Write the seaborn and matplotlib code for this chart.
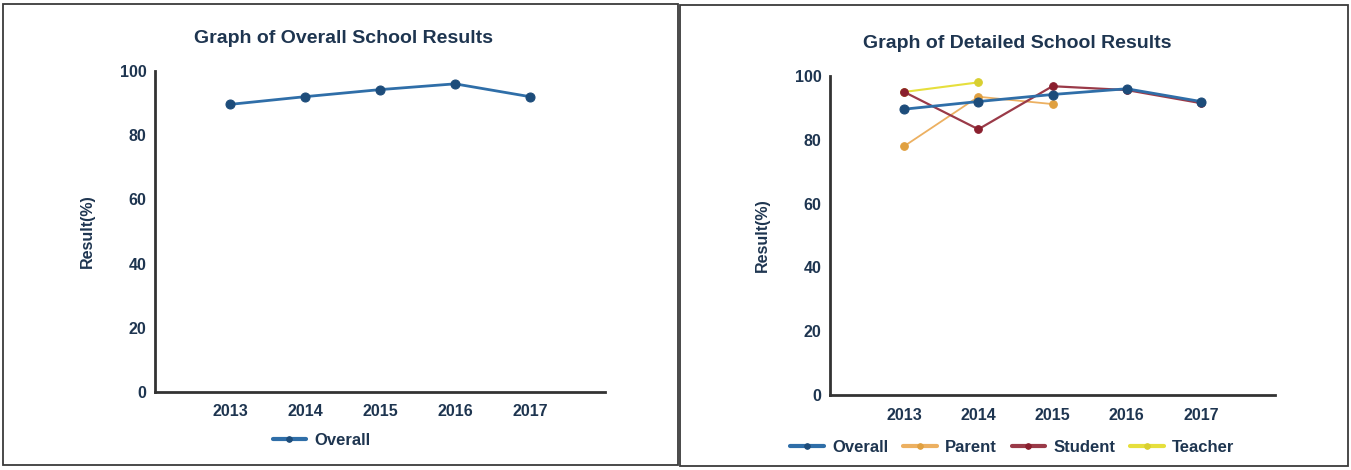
import numpy as np
import pandas as pd
import seaborn as sns
import matplotlib
matplotlib.use("Agg")
import matplotlib.pyplot as plt
from matplotlib.patches import Rectangle

# ---- data -------------------------------------------------------------
years = [2013, 2014, 2015, 2016, 2017]
overall = [89.6, 92.0, 94.2, 96.0, 92.0]
parent = [78.0, 93.5, 91.2, np.nan, np.nan]
student = [95.0, 83.3, 96.8, 95.6, 91.5]
teacher = [95.0, 98.0, np.nan, np.nan, np.nan]
y_ticks = [0, 20, 40, 60, 80, 100]

left_title = "Graph of Overall School Results"
right_title = "Graph of Detailed School Results"
y_label = "Result(%)"

# ---- style ------------------------------------------------------------
sns.set_theme(style="white")
plt.rcParams["font.family"] = ["Liberation Sans", "DejaVu Sans"]

navy = "#1e3550"
spine_col = "#333333"
series_style = {
    "Overall": dict(color="#2f6ea8", mfc="#1d4c7a", mec="#1d4c7a", lw=2.0, ms=6.5, z=5),
    "Parent": dict(color="#ecb061", mfc="#e0a040", mec="#e0a040", lw=1.3, ms=5.5, z=3),
    "Student": dict(color="#9a3a48", mfc="#8a1f2e", mec="#8a1f2e", lw=1.6, ms=5.5, z=4),
    "Teacher": dict(color="#e6df3c", mfc="#d8cf30", mec="#d8cf30", lw=1.5, ms=5.5, z=3),
}

W, H = 1351, 470
fig = plt.figure(figsize=(W / 100, H / 100), dpi=100)

# panel frames
fig.add_artist(Rectangle((3 / W, 1 - 465 / H), 675 / W, 461 / H,
                         transform=fig.transFigure, fill=False,
                         edgecolor="#3a3a3a", lw=1.3))
fig.add_artist(Rectangle((680 / W, 1 - 466 / H), 668 / W, 461 / H,
                         transform=fig.transFigure, fill=False,
                         edgecolor="#3a3a3a", lw=1.3))

ax_l = fig.add_axes([155 / W, 1 - 392 / H, 450 / W, 321 / H])
ax_r = fig.add_axes([830 / W, 1 - 395 / H, 445 / W, 319 / H])


def draw_series(ax, name, values):
    st = series_style[name]
    df = pd.DataFrame({"Year": years, "Result": values})
    sns.lineplot(data=df, x="Year", y="Result", ax=ax, color=st["color"],
                 lw=st["lw"], marker="o", markersize=st["ms"],
                 markerfacecolor=st["mfc"], markeredgecolor=st["mec"],
                 label=name, zorder=st["z"])


def style_axes(ax, title):
    ax.set_xlim(2012, 2018)
    ax.set_ylim(0, 100)
    ax.set_xticks(years)
    ax.set_xticklabels([str(y) for y in years])
    ax.set_yticks(y_ticks)
    sns.despine(ax=ax)
    for s in ("left", "bottom"):
        ax.spines[s].set_color(spine_col)
        ax.spines[s].set_linewidth(2.0)
    ax.tick_params(axis="both", which="both", direction="out", length=4,
                   width=1.2, color=spine_col, labelcolor=navy,
                   labelsize=11.5, pad=2)
    ax.tick_params(axis="x", pad=5)
    for lab in ax.get_xticklabels() + ax.get_yticklabels():
        lab.set_fontweight("bold")
    ax.set_xlabel("")
    ax.set_ylabel(y_label, fontsize=11.5, fontweight="bold", color=navy,
                  labelpad=18)
    ax.set_title(title, fontsize=14, fontweight="bold", color=navy,
                 pad=20, x=0.42)


def add_legend(ax, order, xc, yc):
    handles, labels = ax.get_legend_handles_labels()
    h_map = dict(zip(labels, handles))
    leg = ax.legend([h_map[k] for k in order], order, loc="center",
                    bbox_to_anchor=(xc, yc), ncol=len(order), frameon=False,
                    prop={"weight": "bold", "size": 12}, handlelength=2.0,
                    handletextpad=0.5, columnspacing=0.9, labelcolor=navy)
    for line in leg.get_lines():
        line.set_linewidth(3.0)
        line.set_markersize(4)


# left panel: overall only
draw_series(ax_l, "Overall", overall)
style_axes(ax_l, left_title)
add_legend(ax_l, ["Overall"], 0.37, -0.15)

# right panel: overall and the three groups
draw_series(ax_r, "Overall", overall)
draw_series(ax_r, "Parent", parent)
draw_series(ax_r, "Student", student)
draw_series(ax_r, "Teacher", teacher)
style_axes(ax_r, right_title)
add_legend(ax_r, ["Overall", "Parent", "Student", "Teacher"], 0.41, -0.165)

fig.savefig("out.png", dpi=100)
